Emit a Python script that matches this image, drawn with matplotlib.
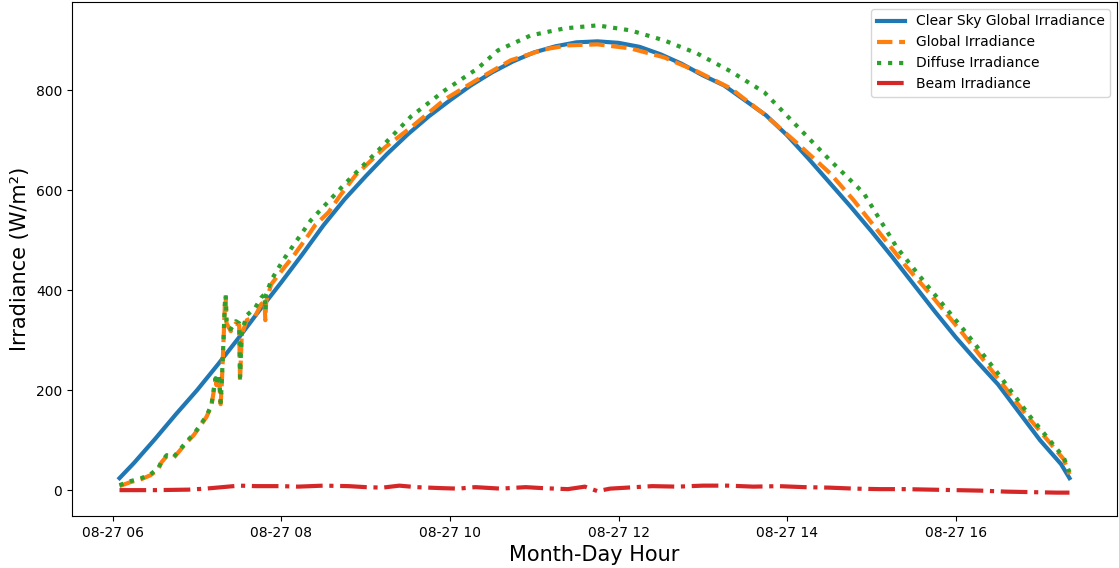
"""Clear-sky vs measured irradiance for one day (08-27)."""

import matplotlib

matplotlib.use("Agg")
import matplotlib.dates as mdates
import matplotlib.pyplot as plt
import pandas as pd

DAY = "2020-08-27"

# hours of day -> clear-sky model
clear_hours = [
    6.08, 6.25, 6.50, 6.75, 7.00, 7.25, 7.50, 7.75, 8.00, 8.25, 8.50, 8.75,
    9.00, 9.25, 9.50, 9.75, 10.00, 10.25, 10.50, 10.75, 11.00, 11.25, 11.50,
    11.75, 12.00, 12.25, 12.50, 12.75, 13.00, 13.25, 13.50, 13.75, 14.00,
    14.25, 14.50, 14.75, 15.00, 15.25, 15.50, 15.75, 16.00, 16.25, 16.50,
    16.75, 17.00, 17.25, 17.35,
]
clear_sky = [
    24, 54, 102, 152, 200, 252, 306, 362, 416, 472, 530, 582,
    628, 672, 712, 748, 780, 810, 836, 858, 876, 888, 896,
    898, 895, 887, 872, 853, 830, 810, 780, 750, 710,
    664, 616, 568, 518, 466, 412, 358, 306, 258, 212,
    156, 100, 52, 24,
]

# measured global irradiance
global_hours = [
    6.08, 6.21, 6.34, 6.45, 6.54, 6.58, 6.64, 6.72, 6.80, 6.88, 6.96, 7.02,
    7.11, 7.17, 7.20, 7.22, 7.23, 7.26, 7.28, 7.29, 7.31, 7.33, 7.34, 7.35,
    7.40, 7.46, 7.50, 7.51, 7.53, 7.54, 7.59, 7.69, 7.76, 7.80, 7.81, 7.82,
    7.88, 7.99, 8.15, 8.32, 8.40, 8.56, 8.70, 8.88, 9.23, 9.54, 9.94, 10.33,
    10.72, 11.12, 11.40, 11.75, 12.14, 12.54, 12.93, 13.33, 13.73, 14.12,
    14.51, 14.79, 15.10, 15.42, 15.69, 16.09, 16.49, 16.88, 17.28, 17.35,
]
global_irr = [
    8, 16, 22, 30, 42, 56, 68, 64, 80, 96, 110, 124,
    146, 168, 200, 222, 210, 230, 172, 200, 280, 370, 386, 334,
    318, 334, 330, 218, 310, 316, 340, 348, 372, 378, 340, 378,
    412, 436, 470, 510, 530, 556, 590, 630, 686, 726, 782, 822,
    860, 882, 890, 892, 884, 866, 838, 804, 752, 694,
    634, 580, 514, 446, 394, 312, 226, 142, 62, 32,
]

# measured diffuse irradiance
diffuse_hours = [
    6.08, 6.21, 6.34, 6.45, 6.54, 6.58, 6.64, 6.72, 6.80, 6.88, 6.96, 7.02,
    7.11, 7.17, 7.20, 7.22, 7.23, 7.26, 7.28, 7.29, 7.31, 7.33, 7.34, 7.35,
    7.40, 7.46, 7.50, 7.51, 7.53, 7.54, 7.59, 7.69, 7.76, 7.80, 7.81, 7.82,
    7.88, 8.02, 8.35, 8.76, 9.15, 9.54, 9.94, 10.33, 10.57, 10.96, 11.36,
    11.75, 12.14, 12.54, 12.93, 13.33, 13.73, 14.12, 14.51, 14.91, 15.30,
    15.66, 16.09, 16.49, 16.88, 17.28, 17.35,
]
diffuse_irr = [
    10, 18, 24, 32, 44, 58, 70, 66, 82, 98, 112, 126,
    148, 170, 204, 224, 212, 232, 176, 204, 284, 374, 390, 338,
    322, 338, 334, 226, 316, 322, 350, 365, 385, 392, 360, 392,
    420, 460, 540, 614, 680, 748, 800, 844, 880, 910, 924,
    930, 920, 900, 874, 838, 796, 728, 660, 594, 486,
    410, 322, 236, 148, 66, 36,
]

# measured beam irradiance
beam_hours = [
    6.08, 6.50, 6.90, 7.10, 7.30, 7.50, 7.70, 8.00, 8.20, 8.50, 8.80, 9.00,
    9.20, 9.40, 9.60, 9.90, 10.10, 10.30, 10.60, 10.90, 11.10, 11.40, 11.60,
    11.75, 11.90, 12.10, 12.40, 12.70, 13.00, 13.30, 13.60, 13.90, 14.20,
    14.50, 14.80, 15.10, 15.40, 15.70, 16.00, 16.30, 16.60, 16.90, 17.20,
    17.35,
]
beam_irr = [
    0, 0, 1, 3, 6, 9, 8, 8, 7, 9, 8, 6,
    5, 9, 6, 4, 3, 6, 3, 6, 4, 2, 7,
    -2, 3, 5, 8, 7, 9, 9, 7, 8, 6,
    5, 3, 2, 2, 1, 0, -1, -3, -4, -5,
    -5,
]


def _times(hours):
    return pd.Timestamp(DAY) + pd.to_timedelta(hours, unit="h")


def main():
    fig = plt.figure(figsize=(11.19, 5.68), dpi=100)
    ax = fig.add_axes([72 / 1119, 1 - 516 / 568, 1045 / 1119, 514 / 568])

    ax.plot(_times(clear_hours), clear_sky, linewidth=3,
            label="Clear Sky Global Irradiance")
    ax.plot(_times(global_hours), global_irr, linestyle="--", linewidth=3,
            label="Global Irradiance")
    ax.plot(_times(diffuse_hours), diffuse_irr, linestyle=":", linewidth=3,
            label="Diffuse Irradiance")
    ax.plot(_times(beam_hours), beam_irr, linestyle="-.", linewidth=3,
            label="Beam Irradiance")

    ax.xaxis.set_major_locator(mdates.HourLocator(byhour=range(0, 24, 2)))
    ax.xaxis.set_major_formatter(mdates.DateFormatter("%m-%d %H"))
    ax.set_xlabel("Month-Day Hour", fontsize=15)
    ax.set_ylabel("Irradiance (W/m\u00b2)", fontsize=15)
    ax.legend(loc="upper right")

    fig.savefig("out.png", dpi=100)


if __name__ == "__main__":
    main()
